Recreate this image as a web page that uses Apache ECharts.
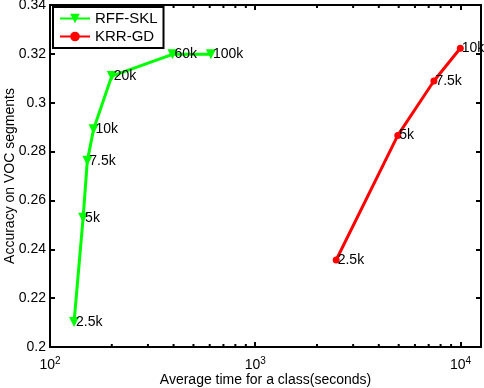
<!DOCTYPE html>
<html lang="en">
<head>
    <meta http-equiv="Content-Type" content="text/html; charset=utf-8"/>
    <title>Accuracy vs time</title>
    <script src="https://cdn.jsdelivr.net/npm/echarts@6/dist/echarts.min.js"></script>
</head>
<body style="margin:0;background:#fff;">
<style>
    #chart {
        width: 484px;
        height: 388px;
    }
</style>
<div id="chart"></div>
<script type="text/javascript">

  // RFF-SKL: time per class (s), accuracy, number of features
  var rffTime = [131, 145, 152, 163, 200, 395, 608];
  var rffAcc = [0.2102, 0.2529, 0.2762, 0.2891, 0.3109, 0.3198, 0.3198];
  var rffLabels = ['2.5k', '5k', '7.5k', '10k', '20k', '60k', '100k'];

  // KRR-GD
  var krrTime = [2480, 4950, 7420, 9980];
  var krrAcc = [0.2356, 0.2866, 0.3089, 0.3223];
  var krrLabels = ['2.5k', '5k', '7.5k', '10k'];

  var minorX = [200, 300, 400, 500, 600, 700, 800, 900, 2000, 3000, 4000, 5000, 6000, 7000, 8000, 9000];

  var FONT = 'Liberation Sans';
  var X_MIN = 100, X_MAX = Math.pow(10, 4.1);

  function pairs(xs, ys, labels) {
    return xs.map(function (x, i) {
      return [x, ys[i], labels[i]];
    });
  }

  var chart = echarts.init(document.getElementById('chart'));

  var axisLine = {show: true, lineStyle: {color: '#000', width: 2}};
  var tick = {show: true, inside: true, length: 5, lineStyle: {color: '#000', width: 2}};

  var option = {
    animation: false,
    backgroundColor: '#fff',
    grid: {left: 50, right: 3, top: 5, bottom: 41, outerBoundsMode: 'none', containLabel: false},
    legend: {
      orient: 'vertical',
      left: 53,
      top: 7,
      padding: [4, 6, 4, 6],
      itemGap: 3,
      itemWidth: 30,
      itemHeight: 12,
      borderColor: '#000',
      borderWidth: 2,
      backgroundColor: '#fff',
      textStyle: {fontFamily: FONT, fontSize: 15, color: '#000'},
      data: ['RFF-SKL', 'KRR-GD']
    },
    xAxis: [{
      type: 'log',
      min: X_MIN,
      max: X_MAX,
      name: 'Average time for a class(seconds)',
      nameLocation: 'middle',
      nameGap: 26,
      nameMoveOverlap: false,
      nameTextStyle: {fontFamily: FONT, fontSize: 14, color: '#000'},
      axisLine: axisLine,
      axisTick: tick,
      splitLine: {show: false},
      axisLabel: {
        margin: 9,
        color: '#000',
        formatter: function (v) {
          var e = Math.log10(v);
          if (Math.abs(e - Math.round(e)) > 1e-6) return '';
          return '{b|10}{e|' + Math.round(e) + '}';
        },
        rich: {
          b: {fontFamily: FONT, fontSize: 14, color: '#000'},
          e: {fontFamily: FONT, fontSize: 10, color: '#000', padding: [0, 0, 8, 0]}
        }
      }
    }, {
      type: 'log',
      position: 'top',
      min: X_MIN,
      max: X_MAX,
      axisLine: axisLine,
      axisTick: tick,
      axisLabel: {show: false},
      splitLine: {show: false}
    }],
    yAxis: [{
      type: 'value',
      min: 0.2,
      max: 0.34,
      interval: 0.02,
      name: 'Accuracy on VOC segments',
      nameLocation: 'middle',
      nameGap: 33,
      nameMoveOverlap: false,
      nameTextStyle: {fontFamily: FONT, fontSize: 14, color: '#000'},
      axisLine: axisLine,
      axisTick: tick,
      splitLine: {show: false},
      axisLabel: {
        margin: 4,
        fontFamily: FONT,
        fontSize: 14,
        color: '#000',
        formatter: function (v) {
          return String(parseFloat(v.toFixed(2)));
        }
      }
    }, {
      type: 'value',
      position: 'right',
      min: 0.2,
      max: 0.34,
      interval: 0.02,
      axisLine: axisLine,
      axisTick: tick,
      axisLabel: {show: false},
      splitLine: {show: false}
    }],
    series: [{
      name: 'RFF-SKL',
      type: 'line',
      data: pairs(rffTime, rffAcc, rffLabels),
      symbol: 'triangle',
      symbolRotate: 180,
      symbolSize: 10,
      showAllSymbol: true,
      itemStyle: {color: '#00ff00'},
      lineStyle: {color: '#00ff00', width: 3},
      label: {
        show: true,
        position: 'right',
        distance: -3,
        fontFamily: FONT,
        fontSize: 14,
        color: '#000',
        formatter: function (p) {
          return p.value[2];
        }
      },
      z: 3
    }, {
      name: 'KRR-GD',
      type: 'line',
      data: pairs(krrTime, krrAcc, krrLabels),
      symbol: 'circle',
      symbolSize: 7,
      showAllSymbol: true,
      itemStyle: {color: '#ff0000'},
      lineStyle: {color: '#ff0000', width: 3},
      label: {
        show: true,
        position: 'right',
        distance: -2,
        fontFamily: FONT,
        fontSize: 14,
        color: '#000',
        formatter: function (p) {
          return p.value[2];
        }
      },
      z: 3
    }]
  };

  chart.setOption(option);

  // MATLAB-style minor log ticks on bottom and top axes
  var rect = chart.getModel().getComponent('grid').coordinateSystem.getRect();
  var minorLines = [];
  minorX.forEach(function (x) {
    var px = chart.convertToPixel({xAxisIndex: 0}, x);
    minorLines.push({
      type: 'line',
      shape: {x1: px, y1: rect.y + rect.height, x2: px, y2: rect.y + rect.height - 3},
      style: {stroke: '#000', lineWidth: 2}
    });
    minorLines.push({
      type: 'line',
      shape: {x1: px, y1: rect.y, x2: px, y2: rect.y + 3},
      style: {stroke: '#000', lineWidth: 2}
    });
  });
  chart.setOption({graphic: minorLines});
</script>
</body>
</html>
